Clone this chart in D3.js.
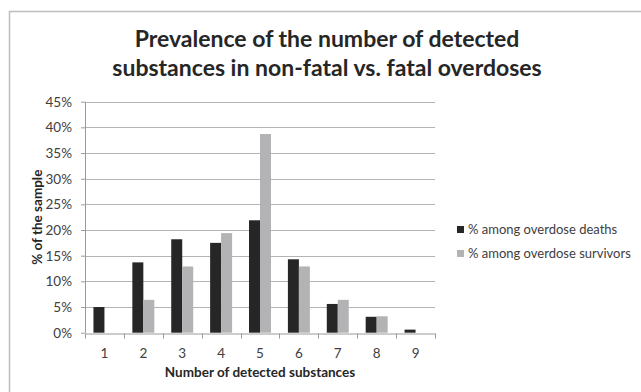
<!DOCTYPE html>
<html>
<head>
<meta charset="utf-8">
<script src="https://cdn.jsdelivr.net/npm/d3@7"></script>
<style>
    body { margin: 0; background: #fff; }
    svg { display: block; }
    text { font-family: Lato, "Open Sans", sans-serif; fill: #404040; }
    .chartTitle { font-weight: bold; font-size: 23px; fill: #262626; }
    .axisTitle { font-weight: bold; font-size: 13.5px; fill: #262626; }
    .tickLabel { font-size: 13.5px; }
    .legendLabel { font-size: 13px; }
</style>
</head>
<body>
<div id="chart"></div>
<script>
// chart data
let categories = ["1", "2", "3", "4", "5", "6", "7", "8", "9"];
let seriesNames = ["% among overdose deaths", "% among overdose survivors"];
let deaths = [5.0, 13.7, 18.2, 17.5, 21.9, 14.3, 5.6, 3.1, 0.6];
let survivors = [0, 6.4, 12.9, 19.4, 38.7, 12.9, 6.4, 3.2, 0];
let yTicks = [0, 5, 10, 15, 20, 25, 30, 35, 40, 45];
let titleLines = ["Prevalence of the number of detected", "substances in non-fatal vs. fatal overdoses"];

let colors = ["#262626", "#b3b3b5"];

let svg = d3.select("#chart")
    .append("svg")
    .attr("width", 641)
    .attr("height", 392);

// outer chart frame (cut off at right and bottom like the original crop)
svg.append("rect")
    .attr("x", 9.5).attr("y", 11.5)
    .attr("width", 700).attr("height", 500)
    .style("fill", "none")
    .style("stroke", "#bdbdbd")
    .style("stroke-width", 1.5);

// plot area
let plot = {left: 85, right: 435, top: 101.7, bottom: 332.7};

let x = d3.scaleBand()
    .domain(categories)
    .range([plot.left, plot.right]);

let xSub = d3.scaleBand()
    .domain(seriesNames)
    .range([0, x.bandwidth()])
    .paddingOuter(0.77);

let y = d3.scaleLinear()
    .domain([0, 45])
    .range([plot.bottom, plot.top]);

// gridlines
svg.append("g")
    .selectAll("line")
    .data(yTicks.slice(1))
    .join("line")
    .attr("x1", plot.left).attr("x2", plot.right)
    .attr("y1", d => Math.round(y(d)) + 0.5)
    .attr("y2", d => Math.round(y(d)) + 0.5)
    .style("stroke", "#b4b4b4")
    .style("stroke-width", 1.2);

// bars
let table = categories.map((c, i) => ({cat: c, values: [deaths[i], survivors[i]]}));

svg.append("g")
    .selectAll("g")
    .data(table)
    .join("g")
    .attr("transform", d => "translate(" + x(d.cat) + ",0)")
    .selectAll("rect")
    .data(d => d.values.map((v, j) => ({name: seriesNames[j], value: v, idx: j})))
    .join("rect")
    .attr("x", d => xSub(d.name))
    .attr("width", xSub.bandwidth())
    .attr("y", d => y(d.value))
    .attr("height", d => y(0) - y(d.value))
    .style("fill", d => colors[d.idx]);

// y axis
let yAxis = svg.append("g")
    .attr("transform", "translate(" + plot.left + ",0)")
    .call(d3.axisLeft(y).tickValues(yTicks).tickSize(4).tickPadding(9)
        .tickFormat(d => d + "%"));
yAxis.select(".domain").style("stroke", "#9a9a9a").attr("d", "M0.5," + plot.top + "V" + plot.bottom);
yAxis.selectAll(".tick line").style("stroke", "#9a9a9a");
yAxis.selectAll(".tick text").attr("class", "tickLabel").style("fill", "#404040");

// x axis
let xAxis = svg.append("g")
    .attr("transform", "translate(0," + (Math.round(plot.bottom) + 0.5) + ")")
    .call(d3.axisBottom(x).tickSize(0).tickPadding(15));
xAxis.select(".domain").style("stroke", "#9a9a9a");
xAxis.selectAll(".tick text").attr("class", "tickLabel").style("fill", "#404040");

// tick marks at category boundaries
let bounds = categories.map(c => x(c)).concat([x.range()[1]]);
xAxis.append("g")
    .selectAll("line")
    .data(bounds)
    .join("line")
    .attr("x1", d => Math.round(d) + 0.5).attr("x2", d => Math.round(d) + 0.5)
    .attr("y1", 0).attr("y2", 5)
    .style("stroke", "#9a9a9a");

// axis titles
svg.append("text")
    .attr("class", "axisTitle")
    .attr("x", (plot.left + plot.right) / 2)
    .attr("y", 377)
    .attr("text-anchor", "middle")
    .text("Number of detected substances");

svg.append("text")
    .attr("class", "axisTitle")
    .attr("transform", "translate(41.5," + ((plot.top + plot.bottom) / 2) + ") rotate(-90)")
    .attr("text-anchor", "middle")
    .text("% of the sample");

// title
svg.append("g")
    .selectAll("text")
    .data(titleLines)
    .join("text")
    .attr("class", "chartTitle")
    .attr("x", 327)
    .attr("y", (d, i) => 47 + i * 28.5)
    .attr("text-anchor", "middle")
    .text(d => d);

// legend
let legend = svg.append("g")
    .selectAll("g")
    .data(seriesNames)
    .join("g")
    .attr("transform", (d, i) => "translate(457," + (226 + i * 24) + ")");
legend.append("rect")
    .attr("width", 7).attr("height", 7)
    .style("fill", (d, i) => colors[i]);
legend.append("text")
    .attr("class", "legendLabel")
    .attr("x", 11).attr("y", 7.5)
    .text(d => d);
</script>
</body>
</html>
